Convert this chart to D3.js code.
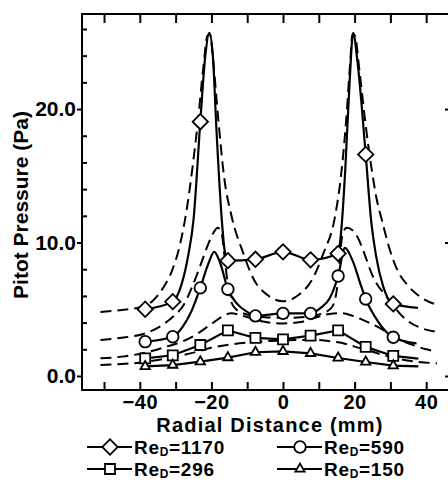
<!DOCTYPE html>
<html><head><meta charset="utf-8">
<script src="https://cdn.jsdelivr.net/npm/d3@7"></script>
<style>
body{margin:0;background:#fff}
svg{display:block}
text{font-family:"Liberation Sans",Arial,sans-serif;font-weight:bold;fill:#000}
</style></head>
<body><svg id="chart" width="448" height="481"></svg>
<script>
// ---------- data ----------
const markerX = [-38.5,-30.8,-23.1,-15.4,-7.7,0,7.7,15.4,23.1,30.8];
const re1170Markers = [5.0,5.57,19.05,8.64,8.74,9.3,8.7,9.18,16.6,5.4];
const re590Markers  = [2.57,2.94,6.6,6.5,4.5,4.69,4.69,7.49,5.77,2.9];
const re296Markers  = [1.32,1.55,2.32,3.42,2.85,2.75,3.03,3.42,2.18,1.5];
const re150Markers  = [0.72,0.82,1.07,1.38,1.78,1.85,1.7,1.35,1.05,0.77];

const re1170Line = [[-38.5,5.0],[-30.8,5.57],[-28.3,6.9],[-26.5,9.0],[-25,11.7],[-23.1,19.05],[-21.7,24.0],[-20.6,25.7],[-19.6,24.0],[-18.6,18.5],[-17.1,11.7],[-16.3,9.4],[-15.4,8.64],[-7.7,8.74],[0,9.3],[7.7,8.7],[15.4,9.18],[16.3,11.0],[17.4,15.5],[18.6,22.0],[19.6,25.7],[20.7,23.8],[23.1,16.6],[24.6,11.7],[26.0,9.0],[28,6.7],[30.8,5.4],[37.7,5.1]];
const re590Line = [[-38.5,2.57],[-30.8,2.94],[-28,3.7],[-25.5,4.9],[-23.1,6.6],[-21,8.3],[-19.2,9.3],[-17.6,8.5],[-15.4,6.5],[-12.8,5.4],[-10,4.8],[-7.7,4.5],[0,4.69],[7.7,4.69],[10.5,5.1],[13,5.8],[15.4,7.49],[17.3,9.6],[19.5,8.6],[21.5,7.0],[23.1,5.77],[26.5,4.1],[30.8,2.9],[37.3,2.44]];
const re296Line = [[-38.5,1.32],[-30.8,1.55],[-23.1,2.32],[-15.4,3.42],[-7.7,2.85],[0,2.75],[7.7,3.03],[15.4,3.42],[23.1,2.18],[30.8,1.5],[37.8,1.3]];
const re150Line = [[-38.5,0.72],[-30.8,0.82],[-23.1,1.07],[-15.4,1.38],[-7.7,1.78],[0,1.85],[7.7,1.7],[15.4,1.35],[23.1,1.05],[30.8,0.77],[37.8,0.72]];

const re1170Model = [[-51,4.8],[-45,4.95],[-40,5.15],[-36.5,5.6],[-33.5,6.6],[-31,7.9],[-29,9.6],[-27,12.3],[-25.2,15.8],[-23.8,19.0],[-22.3,23.0],[-21.1,25.5],[-20.4,25.6],[-19.5,23.6],[-18,19.0],[-16.5,15.0],[-14.3,11.9],[-11.1,9.2],[-8.3,7.3],[-4.5,6.1],[0,5.6],[4.5,6.1],[8.3,7.3],[11.3,9.2],[14.5,11.9],[16.2,15.0],[17.6,19.0],[18.8,23.6],[19.4,25.6],[20.1,25.5],[21.3,23.0],[23.0,19.0],[24.6,15.8],[26.2,13.2],[27.6,11.7],[29.9,9.4],[32,7.9],[34.5,6.9],[38.5,5.9],[43.4,5.3]];
const re590Model = [[-51,2.7],[-44,2.9],[-39,3.15],[-34.4,3.7],[-30.5,4.5],[-27.8,5.3],[-25.5,6.6],[-23.2,8.2],[-21,9.8],[-19.5,10.7],[-18.2,11.1],[-17.1,10.6],[-16.2,8.6],[-15.2,6.4],[-13.5,5.1],[-10,4.6],[-5,4.4],[0,4.35],[5,4.4],[10,4.6],[13.5,5.1],[15,6.4],[15.8,8.6],[16.6,10.6],[17.8,11.1],[19.5,10.9],[21.2,10.2],[22.4,9.4],[25.2,7.4],[29,5.9],[34.5,4.2],[38.5,3.6],[43.4,3.3]];
const re296Model = [[-51,1.32],[-45,1.45],[-41.8,1.57],[-37,1.85],[-32.5,2.2],[-28,2.6],[-24,3.15],[-20,3.9],[-17,4.45],[-14.5,4.7],[-11,4.5],[-6,4.1],[0,3.94],[5,4.05],[9.4,4.4],[13,4.65],[16.3,4.7],[19,4.55],[21.5,4.3],[24,4.0],[27,3.6],[30,3.1],[32.7,2.7],[36,2.35],[40,2.0],[43,1.82]];
const re150Model = [[-51,0.82],[-45,0.9],[-40,1.0],[-35,1.2],[-30,1.45],[-25,1.75],[-20.4,2.1],[-15,2.35],[-10,2.5],[-5,2.6],[0,2.65],[5,2.7],[9.4,2.7],[13,2.6],[16.8,2.45],[20,2.2],[23.4,1.95],[28,1.57],[33,1.25],[38,1.05],[43,0.95]];

const seriesNames = ["1170","590","296","150"];
const seriesSymbols = ["diamond","circle","square","triangle"];
const xTickValues = d3.range(-50, 50, 10);
const xLabelValues = [-40,-20,0,20,40];
const yMajorTicks = [0,10,20];
const yMinorTicks = [2,4,6,8,12,14,16,18,22,24,26];

// ---------- layout ----------
const svg = d3.select("#chart");
const L = 82, R = 450, T = 14, B = 390;
const x = d3.scaleLinear().domain([-56.15, 46.65]).range([L, R]);
const y = d3.scaleLinear().domain([-1.05, 27.12]).range([B, T]);

const series = [
  {name:seriesNames[0], sym:seriesSymbols[0], m:re1170Markers, line:re1170Line, model:re1170Model, curve:d3.curveMonotoneX},
  {name:seriesNames[1], sym:seriesSymbols[1], m:re590Markers,  line:re590Line,  model:re590Model,  curve:d3.curveMonotoneX},
  {name:seriesNames[2], sym:seriesSymbols[2], m:re296Markers,  line:re296Line,  model:re296Model,  curve:d3.curveLinear},
  {name:seriesNames[3], sym:seriesSymbols[3], m:re150Markers,  line:re150Line,  model:re150Model,  curve:d3.curveLinear}
];

function symPath(s){
  if(s==="diamond") return d3.symbol(d3.symbolSquare, 118)();
  if(s==="circle") return d3.symbol(d3.symbolCircle, 105)();
  if(s==="square") return d3.symbol(d3.symbolSquare, 100)();
  return d3.symbol(d3.symbolTriangle, 38)();
}
function symRot(s){ return s==="diamond" ? " rotate(45)" : ""; }

// ---------- axes ----------
const fmtX = d => (d<0 ? "\u2212"+Math.abs(d) : String(d));
const gB = svg.append("g").attr("transform",`translate(0,${B})`)
  .call(d3.axisBottom(x).tickValues(xTickValues).tickSize(-8).tickSizeOuter(0).tickPadding(5)
    .tickFormat(d => xLabelValues.includes(d) ? fmtX(d) : ""));
const gT = svg.append("g").attr("transform",`translate(0,${T})`)
  .call(d3.axisTop(x).tickValues(xTickValues).tickSize(-9).tickSizeOuter(0).tickFormat(""));
const gL = svg.append("g").attr("transform",`translate(${L},0)`)
  .call(d3.axisLeft(y).tickValues(yMajorTicks).tickSize(5).tickSizeOuter(0).tickPadding(1).tickFormat(d3.format(".1f")));
const gL2 = svg.append("g").attr("transform",`translate(${L},0)`)
  .call(d3.axisLeft(y).tickValues(yMinorTicks).tickSize(-5).tickSizeOuter(0).tickFormat(""));
const gR = svg.append("g").attr("transform",`translate(${R},0)`)
  .call(d3.axisRight(y).tickValues(yMajorTicks).tickSize(-5).tickSizeOuter(0).tickFormat(""));
[gB,gT,gL,gL2,gR].forEach(g=>{
  g.select(".domain").remove();
  g.selectAll(".tick line").attr("stroke","#000").attr("stroke-width",2);
  g.selectAll("text").attr("font-size",21).attr("fill","#000")
    .style("font-family",'"Liberation Sans",Arial,sans-serif').style("font-weight","bold");
});
gB.selectAll("text").attr("font-size",20).attr("letter-spacing",0.5);
svg.append("rect").attr("x",L).attr("y",T).attr("width",R-L).attr("height",B-T)
  .attr("fill","none").attr("stroke","#000").attr("stroke-width",2);

// axis titles
svg.append("text").attr("x",270).attr("y",432).attr("text-anchor","middle")
  .attr("font-size",20).attr("letter-spacing",1.2).text("Radial Distance (mm)");
svg.append("text").attr("transform","translate(28,205) rotate(-90)").attr("text-anchor","middle")
  .attr("font-size",21).text("Pitot Pressure (Pa)");

// ---------- curves ----------
const plot = svg.append("g");
series.forEach(s=>{
  plot.append("path").datum(s.model)
    .attr("d", d3.line().x(d=>x(d[0])).y(d=>y(d[1])).curve(d3.curveMonotoneX))
    .attr("fill","none").attr("stroke","#000").attr("stroke-width",2).attr("stroke-dasharray","11,6");
});
series.forEach(s=>{
  plot.append("path").datum(s.line)
    .attr("d", d3.line().x(d=>x(d[0])).y(d=>y(d[1])).curve(s.curve))
    .attr("fill","none").attr("stroke","#000").attr("stroke-width",2.2);
});
series.forEach(s=>{
  plot.selectAll(null).data(s.m).enter().append("path")
    .attr("d", symPath(s.sym))
    .attr("transform",(d,i)=>`translate(${x(markerX[i])},${y(d)})${symRot(s.sym)}`)
    .attr("fill","#fff").attr("stroke","#000").attr("stroke-width",1.8);
});

// ---------- legend ----------
const legPos = [[87,447],[277,447],[87,469],[277,469]];
series.forEach((s,i)=>{
  const [lx,ly] = legPos[i];
  const g = svg.append("g").attr("transform",`translate(${lx},${ly})`);
  g.append("line").attr("x1",0).attr("x2",45).attr("y1",0).attr("y2",0).attr("stroke","#000").attr("stroke-width",2);
  g.append("path").attr("d",symPath(s.sym)).attr("transform",`translate(23,0)${symRot(s.sym)}`)
    .attr("fill","#fff").attr("stroke","#000").attr("stroke-width",1.8);
  const t = g.append("text").attr("x",47).attr("y",7).attr("font-size",19).attr("letter-spacing",0.7);
  t.append("tspan").text("Re");
  t.append("tspan").attr("font-size",12).attr("dy",2).text("D");
  t.append("tspan").attr("dy",-2).text("="+s.name);
});
</script></body></html>
